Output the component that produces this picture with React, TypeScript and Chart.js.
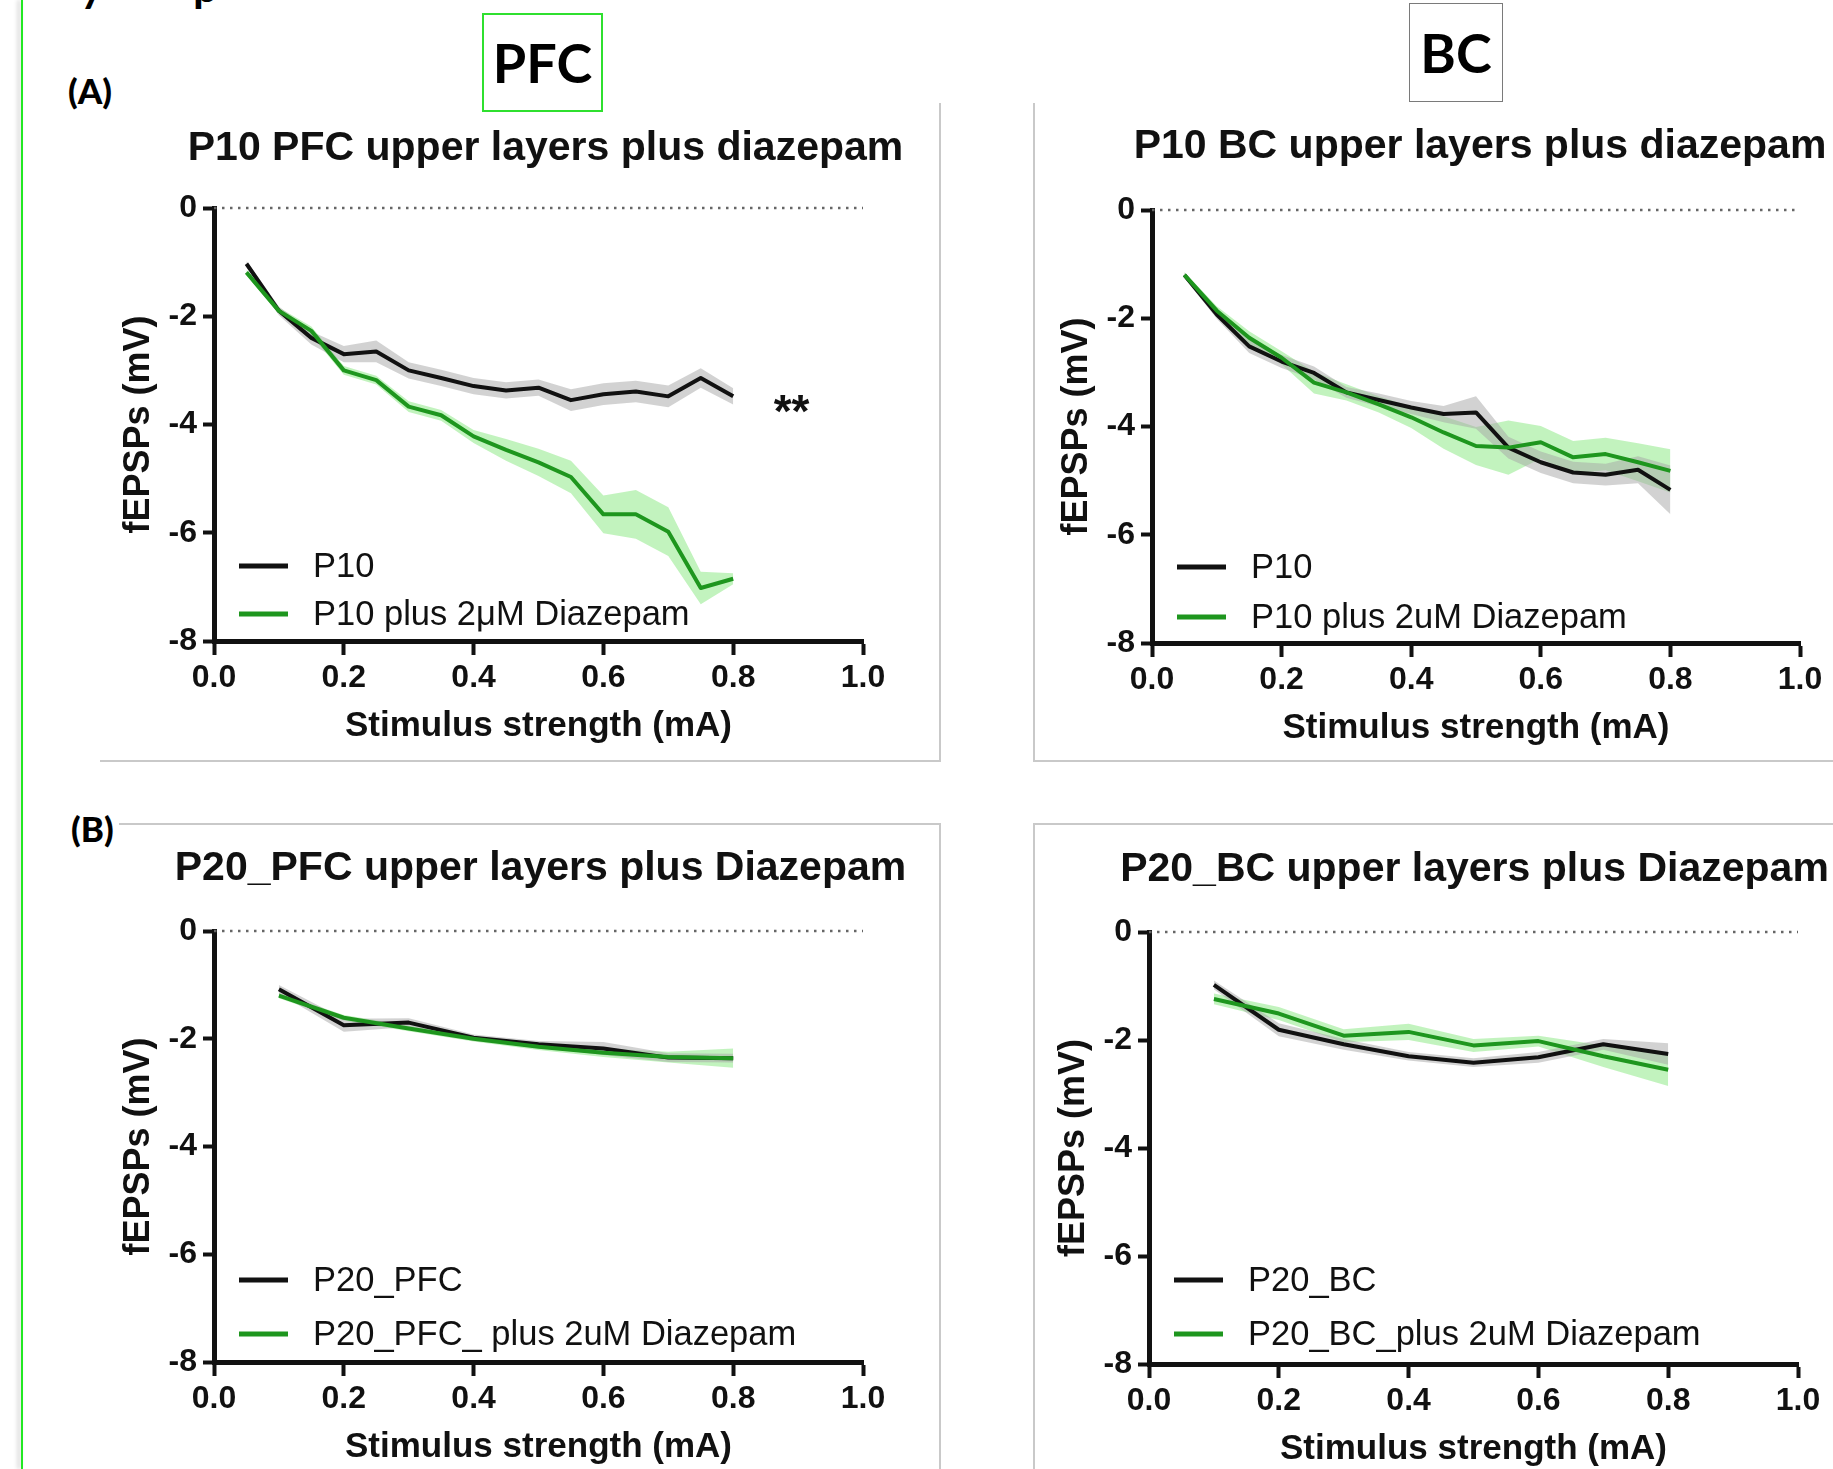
import React, { useEffect, useRef } from 'react';
import { Chart, registerables } from 'chart.js';

Chart.register(...registerables);

const FONT = "'Liberation Sans', Arial, Helvetica, sans-serif";
const LABEL_FONT = "Lato, 'Open Sans', 'Liberation Sans', sans-serif";

// Tick values
const xTickValues = [0, 0.2, 0.4, 0.6, 0.8, 1.0];
const yTickValues = [0, -2, -4, -6, -8];

// Stimulus strengths (mA)
const stimP10 = [0.05, 0.1, 0.15, 0.2, 0.25, 0.3, 0.35, 0.4, 0.45, 0.5, 0.55, 0.6, 0.65, 0.7, 0.75, 0.8];
const stimP20 = [0.1, 0.2, 0.3, 0.4, 0.5, 0.6, 0.7, 0.8];

// (A) P10 PFC
const pfcP10Mean = [-1.03, -1.9, -2.4, -2.7, -2.65, -3.0, -3.14, -3.29, -3.37, -3.32, -3.55, -3.44, -3.39, -3.48, -3.14, -3.48];
const pfcP10Sem = [0.05, 0.08, 0.12, 0.15, 0.2, 0.15, 0.15, 0.15, 0.15, 0.15, 0.2, 0.2, 0.2, 0.2, 0.18, 0.15];
const pfcP10DzpMean = [-1.19, -1.9, -2.27, -3.0, -3.18, -3.67, -3.83, -4.22, -4.47, -4.7, -4.97, -5.66, -5.66, -5.98, -7.02, -6.85];
const pfcP10DzpSem = [0.05, 0.06, 0.08, 0.08, 0.08, 0.1, 0.1, 0.12, 0.2, 0.25, 0.3, 0.35, 0.45, 0.45, 0.3, 0.1];

// (A) P10 BC
const bcP10Mean = [-1.2, -1.93, -2.52, -2.8, -3.01, -3.37, -3.51, -3.65, -3.77, -3.74, -4.39, -4.66, -4.85, -4.89, -4.8, -5.17];
const bcP10Sem = [0.05, 0.08, 0.12, 0.12, 0.12, 0.1, 0.12, 0.12, 0.15, 0.3, 0.2, 0.2, 0.2, 0.2, 0.25, 0.45];
const bcP10DzpMean = [-1.2, -1.86, -2.36, -2.73, -3.19, -3.37, -3.59, -3.83, -4.11, -4.36, -4.39, -4.29, -4.57, -4.51, -4.66, -4.82];
const bcP10DzpSem = [0.05, 0.08, 0.12, 0.12, 0.2, 0.15, 0.15, 0.2, 0.3, 0.35, 0.5, 0.3, 0.3, 0.3, 0.35, 0.4];

// (B) P20 PFC
const pfcP20Mean = [-1.08, -1.75, -1.7, -1.98, -2.1, -2.18, -2.35, -2.36];
const pfcP20Sem = [0.08, 0.12, 0.08, 0.06, 0.06, 0.12, 0.08, 0.08];
const pfcP20DzpMean = [-1.2, -1.61, -1.81, -2.0, -2.15, -2.26, -2.34, -2.36];
const pfcP20DzpSem = [0.05, 0.05, 0.05, 0.05, 0.06, 0.08, 0.1, 0.18];

// (B) P20 BC
const bcP20Mean = [-0.98, -1.81, -2.08, -2.3, -2.42, -2.32, -2.08, -2.26];
const bcP20Sem = [0.08, 0.12, 0.1, 0.08, 0.08, 0.1, 0.1, 0.2];
const bcP20DzpMean = [-1.24, -1.51, -1.92, -1.85, -2.1, -2.02, -2.3, -2.55];
const bcP20DzpSem = [0.1, 0.12, 0.12, 0.15, 0.12, 0.1, 0.2, 0.3];

const BLACK = '#111111';
const GREEN = '#1e961e';
const GRAY_BAND = 'rgba(165,165,165,0.5)';
const GREEN_BAND = 'rgba(120,228,110,0.45)';

type Series = { label: string; mean: number[]; sem: number[]; line: string; band: string };
type PanelCfg = {
  title: string;
  titleDx: number;
  titleDy: number;
  xs: number[];
  series: Series[];
  left: number;
  top: number;
  width: number;
  height: number;
  padRight: number;
  legendRows: number[];
  stars?: { x: number; y: number; text: string };
};

const titlePlugin = {
  id: 'panelTitle',
  afterDraw(chart: any, _args: any, opts: any) {
    if (!opts || !opts.text) return;
    const { ctx, chartArea } = chart;
    ctx.save();
    ctx.fillStyle = BLACK;
    ctx.font = `bold 41px ${FONT}`;
    ctx.textAlign = 'center';
    ctx.textBaseline = 'middle';
    ctx.fillText(opts.text, (chartArea.left + chartArea.right) / 2 + opts.dx, chartArea.top + opts.dy);
    ctx.restore();
  },
};

const legendPlugin = {
  id: 'inLegend',
  afterDatasetsDraw(chart: any, _args: any, opts: any) {
    const { ctx, chartArea } = chart;
    const items = chart.data.datasets.filter((d: any) => d.showInLegend);
    items.forEach((d: any, i: number) => {
      const y = chartArea.bottom - opts.rows[i];
      ctx.save();
      ctx.strokeStyle = d.borderColor;
      ctx.lineWidth = 5;
      ctx.beginPath();
      ctx.moveTo(chartArea.left + 25, y);
      ctx.lineTo(chartArea.left + 74, y);
      ctx.stroke();
      ctx.fillStyle = BLACK;
      ctx.font = `34.5px ${FONT}`;
      ctx.textBaseline = 'middle';
      ctx.textAlign = 'left';
      ctx.fillText(d.label, chartArea.left + 99, y + 1);
      ctx.restore();
    });
  },
};

const starsPlugin = {
  id: 'stars',
  afterDatasetsDraw(chart: any, _args: any, opts: any) {
    if (!opts || !opts.text) return;
    const { ctx, scales } = chart;
    const size = 46;
    const px = scales.x.getPixelForValue(opts.x);
    const py = scales.y.getPixelForValue(opts.y);
    ctx.save();
    ctx.fillStyle = BLACK;
    ctx.font = `bold ${size}px ${FONT}`;
    ctx.textAlign = 'center';
    ctx.textBaseline = 'alphabetic';
    ctx.fillText(opts.text, px, py + size * 0.58 - 2);
    ctx.restore();
  },
};

function Panel({ cfg }: { cfg: PanelCfg }) {
  const ref = useRef<HTMLCanvasElement>(null);
  useEffect(() => {
    if (!ref.current) return;
    const datasets: any[] = [];
    cfg.series.forEach((s) => {
      datasets.push({
        label: s.label + ' low',
        data: cfg.xs.map((x, k) => ({ x, y: s.mean[k] - s.sem[k] })),
        borderColor: 'rgba(0,0,0,0)',
        borderWidth: 0,
        pointRadius: 0,
        fill: false,
        tension: 0,
        order: 10,
      });
      datasets.push({
        label: s.label + ' high',
        data: cfg.xs.map((x, k) => ({ x, y: s.mean[k] + s.sem[k] })),
        borderColor: 'rgba(0,0,0,0)',
        borderWidth: 0,
        pointRadius: 0,
        fill: '-1',
        backgroundColor: s.band,
        tension: 0,
        order: 10,
      });
    });
    cfg.series.forEach((s, i) => {
      datasets.push({
        label: s.label,
        showInLegend: true,
        data: cfg.xs.map((x, k) => ({ x, y: s.mean[k] })),
        borderColor: s.line,
        backgroundColor: s.line,
        borderWidth: 4,
        pointRadius: 0,
        fill: false,
        tension: 0,
        borderJoinStyle: 'round',
        order: 5 - i,
      });
    });
    datasets.push({
      label: 'zero',
      data: [
        { x: 0, y: 0 },
        { x: 1, y: 0 },
      ],
      borderColor: '#666',
      borderWidth: 2.5,
      borderDash: [2.5, 5.5],
      pointRadius: 0,
      fill: false,
      clip: false,
      order: 0,
    });

    const chart = new Chart(ref.current, {
      type: 'line',
      data: { datasets },
      plugins: [legendPlugin, starsPlugin, titlePlugin],
      options: {
        animation: false,
        responsive: false,
        devicePixelRatio: 1,
        layout: { padding: { left: 0, right: cfg.padRight, top: 105, bottom: 0 }, autoPadding: false },
        plugins: {
          legend: { display: false },
          tooltip: { enabled: false },
          title: { display: false },
          panelTitle: { text: cfg.title, dx: cfg.titleDx, dy: cfg.titleDy },
          inLegend: { rows: cfg.legendRows },
          stars: cfg.stars || {},
        } as any,
        scales: {
          x: {
            type: 'linear',
            min: 0,
            max: 1,
            afterBuildTicks: (s: any) => {
              s.ticks = xTickValues.map((v) => ({ value: v }));
            },
            afterFit: (s: any) => {
              s.height = 120;
            },
            grid: { display: true, drawOnChartArea: false, drawTicks: true, tickLength: 14, tickWidth: 4, tickColor: BLACK },
            border: { display: true, color: BLACK, width: 5 },
            ticks: {
              color: BLACK,
              font: { family: FONT, size: 32, weight: 'bold' },
              padding: 4,
              maxRotation: 0,
              autoSkip: false,
              callback: (v: any) => Number(v).toFixed(1),
            },
            title: {
              display: true,
              text: 'Stimulus strength (mA)',
              color: BLACK,
              font: { family: FONT, size: 35, weight: 'bold' },
              padding: { top: 0, bottom: 14 },
            },
          },
          y: {
            type: 'linear',
            min: -8,
            max: 0,
            afterBuildTicks: (s: any) => {
              s.ticks = yTickValues.map((v) => ({ value: v }));
            },
            afterFit: (s: any) => {
              s.width = 114;
            },
            grid: { display: true, drawOnChartArea: false, drawTicks: true, tickLength: 11, tickWidth: 4, tickColor: BLACK },
            border: { display: true, color: BLACK, width: 5 },
            ticks: {
              color: BLACK,
              font: { family: FONT, size: 32, weight: 'bold' },
              padding: 6,
              autoSkip: false,
              callback: (v: any) => String(v),
            },
            title: {
              display: true,
              text: 'fEPSPs (mV)',
              color: BLACK,
              font: { family: FONT, size: 36, weight: 'bold' },
              padding: { top: 17, bottom: 0 },
            },
          },
        },
      } as any,
    });
    return () => chart.destroy();
  }, [cfg]);
  return (
    <div style={{ position: 'absolute', left: cfg.left, top: cfg.top, width: cfg.width, height: cfg.height }}>
      <canvas ref={ref} width={cfg.width} height={cfg.height} style={{ display: 'block' }} />
    </div>
  );
}

const panels: PanelCfg[] = [
  {
    title: 'P10 PFC upper layers plus diazepam',
    titleDx: 7,
    titleDy: -59,
    xs: stimP10,
    series: [
      { label: 'P10', mean: pfcP10Mean, sem: pfcP10Sem, line: BLACK, band: GRAY_BAND },
      { label: 'P10 plus 2μM Diazepam', mean: pfcP10DzpMean, sem: pfcP10DzpSem, line: GREEN, band: GREEN_BAND },
    ],
    left: 100,
    top: 103,
    width: 890,
    height: 658,
    padRight: 127,
    legendRows: [75, 27],
    stars: { x: 0.89, y: -3.59, text: '**' },
  },
  {
    title: 'P10 BC upper layers plus diazepam',
    titleDx: 4,
    titleDy: -63,
    xs: stimP10,
    series: [
      { label: 'P10', mean: bcP10Mean, sem: bcP10Sem, line: BLACK, band: GRAY_BAND },
      { label: 'P10 plus 2uM Diazepam', mean: bcP10DzpMean, sem: bcP10DzpSem, line: GREEN, band: GREEN_BAND },
    ],
    left: 1038,
    top: 105,
    width: 884,
    height: 658,
    padRight: 122,
    legendRows: [76, 26],
  },
  {
    title: 'P20_PFC upper layers plus Diazepam',
    titleDx: 2,
    titleDy: -62,
    xs: stimP20,
    series: [
      { label: 'P20_PFC', mean: pfcP20Mean, sem: pfcP20Sem, line: BLACK, band: GRAY_BAND },
      { label: 'P20_PFC_ plus 2uM Diazepam', mean: pfcP20DzpMean, sem: pfcP20DzpSem, line: GREEN, band: GREEN_BAND },
    ],
    left: 100,
    top: 826,
    width: 880,
    height: 656,
    padRight: 117,
    legendRows: [82, 28],
  },
  {
    title: 'P20_BC upper layers plus Diazepam',
    titleDx: 1,
    titleDy: -62,
    xs: stimP20,
    series: [
      { label: 'P20_BC', mean: bcP20Mean, sem: bcP20Sem, line: BLACK, band: GRAY_BAND },
      { label: 'P20_BC_plus 2uM Diazepam', mean: bcP20DzpMean, sem: bcP20DzpSem, line: GREEN, band: GREEN_BAND },
    ],
    left: 1035,
    top: 827,
    width: 878,
    height: 657,
    padRight: 115,
    legendRows: [84, 30],
  },
];

const frameColor = '#c9c9c9';
const line = (style: React.CSSProperties) => (
  <div style={{ position: 'absolute', background: frameColor, ...style }} />
);

export default function App() {
  return (
    <div
      style={{
        position: 'absolute',
        left: 0,
        top: 0,
        width: 1833,
        height: 1469,
        overflow: 'hidden',
        background: '#ffffff',
      }}
    >
      {/* cut-off heading text at very top */}
      <div style={{ position: 'absolute', left: 80, top: -37, fontFamily: LABEL_FONT, fontWeight: 'bold', fontSize: 44, lineHeight: '44px', color: '#000' }}>y</div>
      <div style={{ position: 'absolute', left: 193, top: -37, fontFamily: LABEL_FONT, fontWeight: 'bold', fontSize: 44, lineHeight: '44px', color: '#000' }}>p</div>

      {/* green margin line */}
      <div style={{ position: 'absolute', left: 21, top: 0, width: 2, height: 1469, background: '#22e822', boxShadow: '-3px 0 4px rgba(0,0,0,0.25)' }} />

      {/* section labels */}
      <div style={{ position: 'absolute', left: 482, top: 13, width: 117, height: 95, border: '2px solid #2fe02f', display: 'flex', alignItems: 'center', justifyContent: 'center', fontFamily: LABEL_FONT, fontWeight: 'bold', fontSize: 54, color: '#000' }}>PFC</div>
      <div style={{ position: 'absolute', left: 1409, top: 3, width: 92, height: 97, border: '1.5px solid #7a7a7a', display: 'flex', alignItems: 'center', justifyContent: 'center', fontFamily: LABEL_FONT, fontWeight: 'bold', fontSize: 54, color: '#000' }}>BC</div>
      <div style={{ position: 'absolute', left: 68, top: 70, fontFamily: LABEL_FONT, fontWeight: 900, fontSize: 35, lineHeight: '40px', color: '#000' }}>(A)</div>
      <div style={{ position: 'absolute', left: 71, top: 808, fontFamily: LABEL_FONT, fontWeight: 900, fontSize: 35, lineHeight: '40px', color: '#000' }}>(B)</div>

      {/* panel frames */}
      {line({ left: 939, top: 103, width: 2, height: 659 })}
      {line({ left: 100, top: 760, width: 841, height: 2 })}
      {line({ left: 1033, top: 103, width: 2, height: 659 })}
      {line({ left: 1033, top: 760, width: 800, height: 2 })}
      {line({ left: 119, top: 823, width: 822, height: 2 })}
      {line({ left: 939, top: 823, width: 2, height: 646 })}
      {line({ left: 1033, top: 823, width: 800, height: 2 })}
      {line({ left: 1033, top: 823, width: 2, height: 646 })}

      {panels.map((p, i) => (
        <Panel key={i} cfg={p} />
      ))}
    </div>
  );
}
